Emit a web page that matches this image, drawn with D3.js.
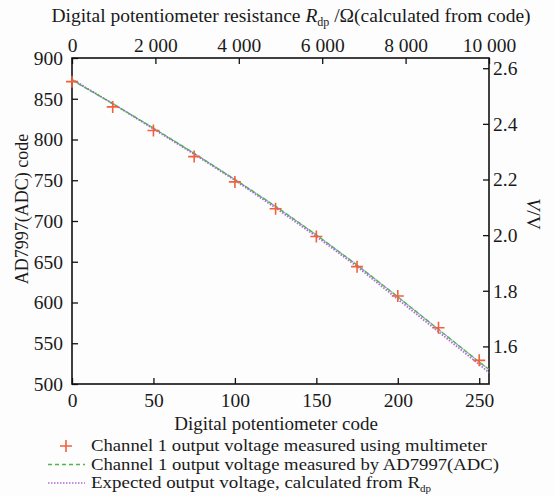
<!DOCTYPE html>
<html><head><meta charset="utf-8">
<script src="https://cdn.jsdelivr.net/npm/d3@7"></script>
<style>
html,body{margin:0;padding:0;background:#fdfdfd;}
text{font-family:"Liberation Serif","Tinos","Times New Roman","Times","DejaVu Serif","Noto Serif",serif;fill:#1a1a1a;}
</style></head>
<body><svg id="c" width="554" height="496"></svg>
<script>
// Data
const pointCodes = [0,25,50,75,100,125,150,175,200,225,250];
const multimeterADC = [871,840,811,779,748,715,681,644,608,569,529];
const lineCodes = [0,25,50,75,100,125,150,175,200,225,250,256];
const adcMeasured = [873,844,814,783,751,718,683,646,607,567,527,518];
const expectedADC = [874,844,813,782,750,716,681,644,604,564,524,514];
const bottomTicks = [0,50,100,150,200,250];
const topTicks = [0,2000,4000,6000,8000,10000];
const topTickLabels = ["0","2 000","4 000","6 000","8 000","10 000"];
const leftTicks = [500,550,600,650,700,750,800,850,900];
const rightTicks = [1.6,1.8,2.0,2.2,2.4,2.6];
const rightTickLabels = ["1.6","1.8","2.0","2.2","2.4","2.6"];
const legendLabels = ["Channel 1 output voltage measured using multimeter","Channel 1 output voltage measured by AD7997(ADC)","Expected output voltage, calculated from R"];

(function(){
const svg = d3.select("#c");
const L=72,R=489,T=58,B=384;
const x = d3.scaleLinear().domain([0,256]).range([L,R]);
const xTop = d3.scaleLinear().domain([0,10000]).range([L,R]);
const y = d3.scaleLinear().domain([500,900]).range([B,T]);
const yR = d3.scaleLinear().domain([1.46484,2.63672]).range([B,T]);
const FT = 19.5, FL = 19.5, FG = 16;

function styleAxis(g){
  g.select(".domain").remove();
  g.selectAll(".tick line").attr("stroke","#111").attr("stroke-width",1.3);
  g.selectAll(".tick text").attr("font-family",null).attr("font-size",FT).attr("fill","#1a1a1a");
}
svg.append("g").attr("transform",`translate(0,${B})`)
  .call(d3.axisBottom(x).tickValues(bottomTicks).tickSize(-6).tickPadding(9).tickFormat(d3.format("d")))
  .call(styleAxis);
svg.append("g").attr("transform",`translate(0,${T})`)
  .call(d3.axisTop(xTop).tickValues(topTicks).tickSize(-6).tickPadding(6).tickFormat((d,i)=>topTickLabels[i]))
  .call(styleAxis);
svg.append("g").attr("transform",`translate(${L},0)`)
  .call(d3.axisLeft(y).tickValues(leftTicks).tickSize(-6).tickPadding(9).tickFormat(d3.format("d")))
  .call(styleAxis);
svg.append("g").attr("transform",`translate(${R},0)`)
  .call(d3.axisRight(yR).tickValues(rightTicks).tickSize(-6).tickPadding(4).tickFormat((d,i)=>rightTickLabels[i]))
  .call(styleAxis);

svg.append("rect").attr("x",L).attr("y",T).attr("width",R-L).attr("height",B-T)
  .attr("fill","none").attr("stroke","#111").attr("stroke-width",1.6);

const lineGen = (vals)=>d3.line().x((d,i)=>x(lineCodes[i])).y(d=>y(d))(vals);
svg.append("path").attr("d",lineGen(expectedADC)).attr("fill","none")
  .attr("stroke","#b46ad0").attr("stroke-width",1.8).attr("stroke-dasharray","1.5,1.5");
svg.append("path").attr("d",lineGen(adcMeasured)).attr("fill","none")
  .attr("stroke","#4fb84a").attr("stroke-width",1.5).attr("stroke-dasharray","4,3");
svg.append("path").attr("d",lineGen(adcMeasured)).attr("fill","none")
  .attr("stroke","#5a6ac0").attr("stroke-width",1.2).attr("stroke-dasharray","3,4").attr("stroke-dashoffset",-3.5).attr("opacity",0.7);

const plus = svg.append("g");
pointCodes.forEach((c,i)=>{
  const px=x(c), py=y(multimeterADC[i]);
  plus.append("path").attr("d",`M${px-6},${py}H${px+6}M${px},${py-6}V${py+6}`)
    .attr("stroke","#f2603c").attr("stroke-width",1.6).attr("fill","none");
});

const ttl = svg.append("text").attr("x",291).attr("y",22).attr("text-anchor","middle").attr("font-size",FL);
ttl.append("tspan").text("Digital potentiometer resistance ");
ttl.append("tspan").attr("font-style","italic").text("R");
ttl.append("tspan").attr("font-size",12).attr("dy",4).text("dp");
ttl.append("tspan").attr("dy",-4).text(" /Ω(calculated from code)");

svg.append("text").attr("x",276).attr("y",430).attr("text-anchor","middle").attr("font-size",19)
  .text("Digital potentiometer code");

svg.append("text").attr("transform","translate(28,209) rotate(-90)").attr("text-anchor","middle").attr("font-size",18)
  .text("AD7997(ADC) code");

const rl = svg.append("text").attr("transform","translate(527,214) rotate(90)").attr("text-anchor","middle").attr("font-size",FL);
rl.append("tspan").attr("font-style","italic").text("V");
rl.append("tspan").text("/V");

const lx0=48,lx1=85,tx=91;
const rows=[446,464.5,483];
svg.append("path").attr("d",`M${66-6},${rows[0]}H${66+6}M66,${rows[0]-6}V${rows[0]+6}`)
  .attr("stroke","#f2603c").attr("stroke-width",1.6);
svg.append("line").attr("x1",lx0).attr("x2",lx1).attr("y1",rows[1]).attr("y2",rows[1])
  .attr("stroke","#4fb84a").attr("stroke-width",1.5).attr("stroke-dasharray","4,3");
svg.append("line").attr("x1",lx0).attr("x2",lx1).attr("y1",rows[2]).attr("y2",rows[2])
  .attr("stroke","#b46ad0").attr("stroke-width",1.5).attr("stroke-dasharray","1.5,1.5");
const widths=[396,408,329];
legendLabels.forEach((t,i)=>{
  const el = svg.append("text").attr("x",tx).attr("y",rows[i]+5).attr("font-size",FG);
  if(i<2){
    el.attr("textLength",widths[i]).attr("lengthAdjust","spacingAndGlyphs").text(t);
  } else {
    el.append("tspan").attr("textLength",widths[i]).attr("lengthAdjust","spacingAndGlyphs").text(t);
    el.append("tspan").attr("font-size",11).attr("dy",4).text("dp");
  }
});
})();
</script></body></html>
